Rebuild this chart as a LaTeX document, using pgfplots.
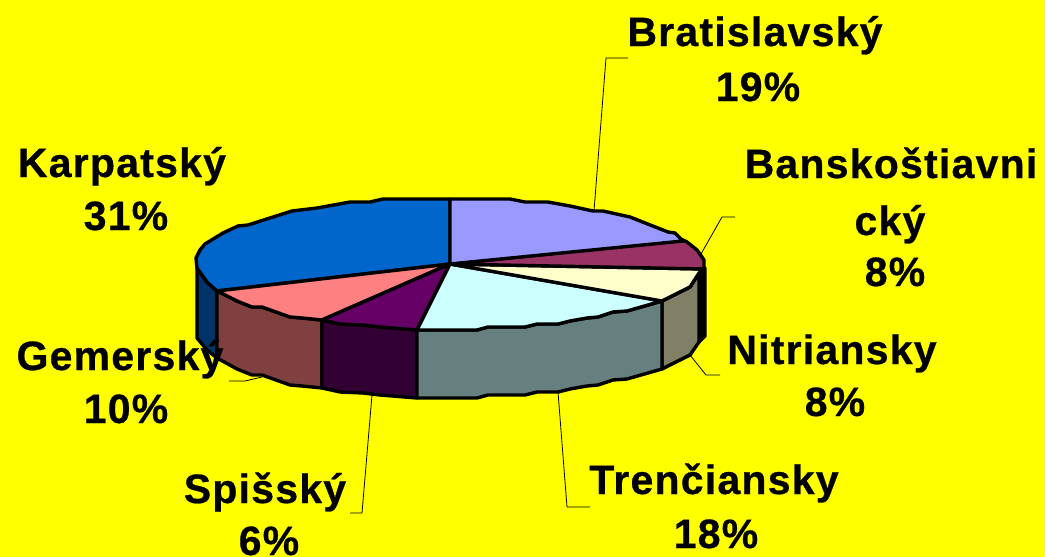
\documentclass[border=0pt]{standalone}
\usepackage{fontspec}
\setmainfont{Liberation Sans}[LetterSpace=3,BoldFeatures={FakeBold=0.6}]
\usepackage{pgfplots}
\pgfplotsset{compat=1.18}
\definecolor{bgy}{RGB}{255,255,0}
\definecolor{kt}{HTML}{0066CC}\definecolor{ks}{HTML}{003366}
\definecolor{gt}{HTML}{FF8080}\definecolor{gs}{HTML}{804040}
\definecolor{st}{HTML}{660066}\definecolor{ss}{HTML}{330033}
\definecolor{tt}{HTML}{CCFFFF}\definecolor{ts}{HTML}{668080}
\definecolor{nt}{HTML}{FFFFCC}\definecolor{ns}{HTML}{808066}
\definecolor{bt}{HTML}{993366}
\definecolor{pt}{HTML}{9999FF}
\tikzset{lab/.style={anchor=base,inner sep=0pt,font=\fontsize{41}{41}\selectfont\bfseries}}
\pgfplotsset{
  sl/.style={draw=black,line width=3.4pt,line join=round,mark=none},
  ld/.style={draw=black,line width=0.8pt,mark=none,line join=miter}}
\begin{document}
\begin{tikzpicture}[x=1pt,y=1pt]
\useasboundingbox (0,0) rectangle (1045,557);
\clip (0,0) rectangle (1045,557);
\begin{axis}[at={(0,0)},anchor=south west,width=1045pt,height=557pt,scale only axis,
  hide axis,xmin=0,xmax=1045,ymin=0,ymax=557,y dir=reverse,clip=true]
\addplot[fill=bgy,draw=none,mark=none] coordinates {(0,0)(1045,0)(1045,557)(0,557)} --cycle;
% leader lines
\addplot[ld] coordinates {(628,58)(606,58)(594,211)};
\addplot[ld] coordinates {(735,217)(722,217)(701,254)};
\addplot[ld] coordinates {(720,375)(706,375)(690,355)};
\addplot[ld] coordinates {(590,507)(567,507)(558,392)};
\addplot[ld] coordinates {(350,513)(362,513)(372,395)};
\addplot[ld] coordinates {(229,381)(245,381)(262,377)};
% side walls
\addplot[sl,fill=ks] coordinates {(197,268)(207,282)(217,290)(217,358)(207,350)(197,338)} --cycle;
\addplot[sl,fill=black] coordinates {(699,273)(705,268)(705,336)(699,342)} --cycle;
\addplot[sl,fill=ns] coordinates {(662,301)(690,287)(699,273)(699,342)(690,355)(662,369)} --cycle;
\addplot[sl,fill=gs] coordinates {(217,290)(237,301)(252,307)(262,307)(290,317)(302,318)(322,320)(322,388)(302,386)(290,385)(262,375)(252,375)(237,369)(217,358)} --cycle;
\addplot[sl,fill=ss] coordinates {(322,320)(340,324)(363,325)(380,327)(417,330)(417,398)(380,395)(363,393)(340,392)(322,388)} --cycle;
\addplot[sl,fill=ts] coordinates {(417,330)(477,330)(488,327)(525,327)(537,324)(558,324)(570,321)(587,318)(598,317)(613,312)(627,311)(662,301)(662,369)(627,379)(613,380)(598,385)(587,386)(570,389)(558,392)(537,392)(525,395)(488,395)(477,398)(417,398)} --cycle;
% top slices
\addplot[sl,fill=kt] coordinates {(450,264)(450,199)(383,199)(370,202)(350,202)(317,208)(292,211)(248,225)(238,226)(223,233)(205,244)(200,250)(196,258)(197,268)(207,282)(217,291)} --cycle;
\addplot[sl,fill=gt] coordinates {(450,264)(217,291)(237,301)(252,307)(262,307)(290,317)(302,318)(322,320)} --cycle;
\addplot[sl,fill=st] coordinates {(450,264)(322,320)(340,324)(363,325)(380,327)(417,330)} --cycle;
\addplot[sl,fill=tt] coordinates {(450,264)(417,330)(477,330)(488,327)(525,327)(537,324)(558,324)(570,321)(587,318)(598,317)(613,312)(627,311)(662,301)} --cycle;
\addplot[sl,fill=nt] coordinates {(450,264)(662,301)(690,287)(699,273)(703,269)} --cycle;
\addplot[sl,fill=bt] coordinates {(450,264)(704,269)(704,260)(697,250)(687,242)(683,240)} --cycle;
\addplot[sl,fill=pt] coordinates {(450,264)(450,199)(510,199)(525,202)(548,202)(570,206)(593,211)(603,211)(630,217)(668,232)(675,233)(683,241)} --cycle;
% labels
\node[lab] at (axis cs:755,46) {Bratislavský};
\node[lab] at (axis cs:758,101) {19\%};
\node[lab] at (axis cs:891,178) {Banskoštiavni};
\node[lab] at (axis cs:890,235) {cký};
\node[lab] at (axis cs:895,286) {8\%};
\node[lab] at (axis cs:832,364) {Nitriansky};
\node[lab] at (axis cs:835,416) {8\%};
\node[lab] at (axis cs:714,494) {Trenčiansky};
\node[lab] at (axis cs:716,548) {18\%};
\node[lab] at (axis cs:265,503) {Spišský};
\node[lab] at (axis cs:269,555) {6\%};
\node[lab] at (axis cs:120,370) {Gemerský};
\node[lab] at (axis cs:126,423) {10\%};
\node[lab] at (axis cs:122,177) {Karpatský};
\node[lab] at (axis cs:126,230) {31\%};
\end{axis}
\end{tikzpicture}
\end{document}
